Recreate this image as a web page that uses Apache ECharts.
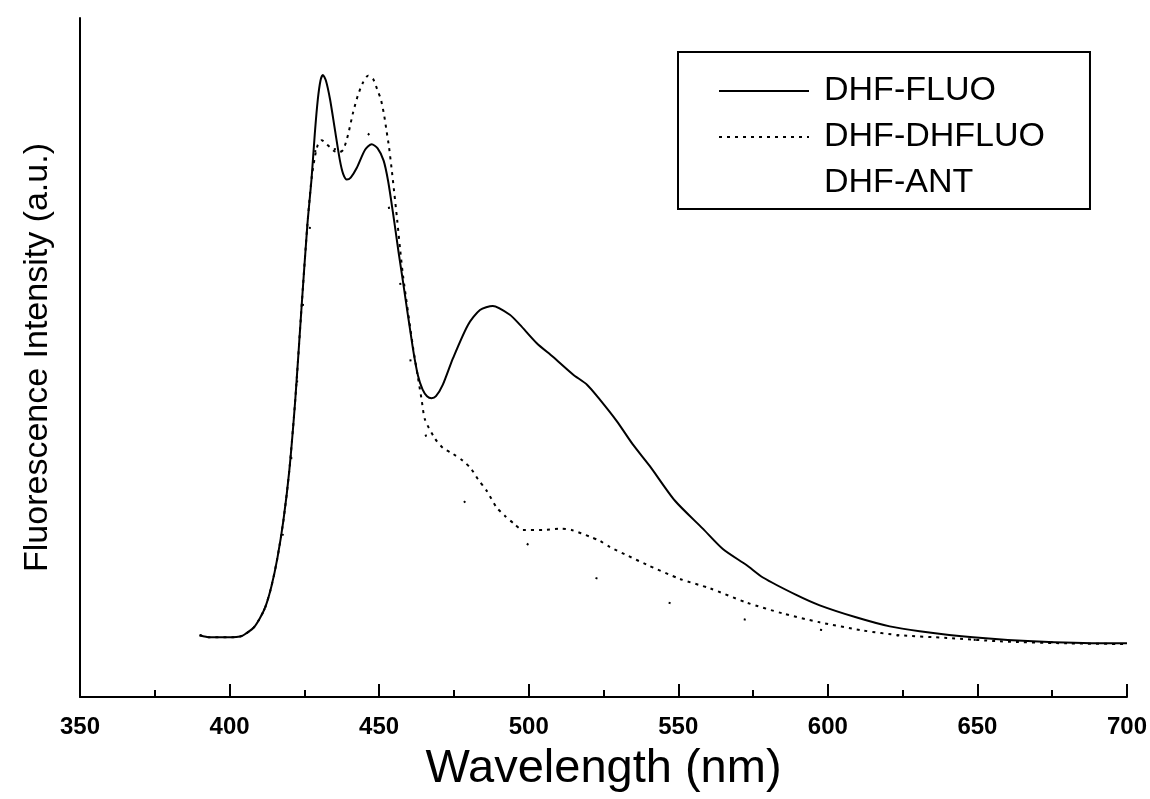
<!DOCTYPE html>
<html>
<head>
<meta charset="utf-8">
<script src="https://cdn.jsdelivr.net/npm/echarts@6/dist/echarts.min.js"></script>
<style>
  html, body { margin: 0; padding: 0; background: #fff; }
  #chart { width: 1150px; height: 799px; }
</style>
</head>
<body>
<div id="chart"></div>
<script>
// DHF-FLUO (solid)
var fluoNm = [390, 393.4, 400.7, 403.5, 405, 408, 410, 412, 414, 416, 418, 420, 422, 424, 426, 427.4, 428.5, 429.5,
  430.4, 431.2, 432.2, 433.6, 435.2, 436.9, 438, 439.2, 440.5, 442.5, 445.3, 447.5, 449.5, 451.5, 453, 454.6,
  456.5, 458, 461.3, 463, 464.5, 466, 467.5, 469, 471.3, 474.7, 479.7, 483.7, 488, 493.7, 497.1, 502.7, 508.1,
  514.8, 519.5, 523.8, 529.5, 534.8, 540.5, 548.9, 558.2, 564.9, 572.9, 578.3, 589.6, 597.3, 609.7, 620.7,
  630.7, 648.5, 668.5, 693.6, 700];
var fluoI = [9.1, 8.8, 8.8, 8.9, 9.2, 10.2, 11.5, 13.3, 16.3, 20.5, 26, 33.5, 44, 57, 69.5, 76.3, 83, 88,
  90.8, 91.6, 90.8, 88, 83.6, 79, 77, 76.2, 76.5, 77.9, 80.6, 81.4, 80.8, 79, 76, 71.4,
  65.5, 61.1, 51.3, 47.3, 45.3, 44.3, 44.0, 44.3, 46.0, 49.9, 54.8, 57.0, 57.6, 56.3, 54.8, 52.1, 50.1,
  47.5, 46.0, 43.8, 40.6, 37.2, 34.0, 28.9, 24.8, 21.8, 19.4, 17.6, 15.0, 13.5, 11.7, 10.4,
  9.7, 8.8, 8.2, 7.9, 7.9];

// DHF-DHFLUO (dotted)
var dhfluoNm = [390, 393.4, 400.7, 403.5, 405, 408, 410, 412, 414, 416, 418, 420, 422, 424, 426, 427.4, 428.5, 429.5,
  430.8, 432, 433.5, 435, 436.5, 438, 439.6, 441.3, 442.9, 444.6, 446.3, 448, 449.5, 450.6, 451.7, 452.5, 453.3,
  454.3, 455, 456, 457, 458, 461.3, 463, 464.2, 465.3, 468.6, 471.3, 474.7, 478, 480.6, 483, 485.9, 489.3, 492,
  495.4, 498, 504.7, 511, 514.3, 520.5, 523.8, 527.1, 533.2, 539.4, 550.5, 560.6, 572.9, 585, 597.3, 611.7,
  624, 639.8, 657.5, 679.9, 700];
var dhfluoI = [9.1, 8.8, 8.8, 8.9, 9.2, 10.2, 11.5, 13.3, 16.3, 20.5, 26, 33.5, 44, 57, 69.5, 76.3, 79.5, 81.3,
  82.0, 81.6, 81.0, 80.4, 80.2, 80.6, 82.8, 86.1, 88.6, 90.5, 91.5, 91.0, 89.3, 88.0, 85.6, 83.3, 81.0,
  77.3, 74.5, 70.4, 66, 62, 51.6, 47, 43.8, 40.9, 38.1, 36.7, 35.8, 34.8, 33.7, 32.1, 30.4, 27.9, 26.7,
  25.4, 24.6, 24.6, 24.8, 24.6, 23.6, 23.0, 22.1, 20.8, 19.5, 17.4, 16.0, 13.9, 12.3, 11.0, 9.8,
  9.1, 8.7, 8.2, 7.9, 7.8];

// DHF-ANT (faint, only a few dots survive)
var antNm = [390, 400, 405, 410, 415, 418.5, 421, 424, 427, 429.5, 431, 433.6, 435.5, 438, 442, 446, 450, 454, 458, 462,
  466, 472, 480, 490, 497, 505, 515, 532, 550, 575, 600, 650, 700];
var antI = [9.1, 8.8, 9.2, 11.3, 17.5, 26, 37, 55, 70, 84.6, 85.6, 85.3, 80, 77, 79, 83, 80, 70, 58, 45,
  38, 33, 28, 24.5, 23.2, 21.0, 18.8, 16.0, 13.5, 11.2, 9.8, 8.4, 7.8];

var seriesNames = ['DHF-FLUO', 'DHF-DHFLUO', 'DHF-ANT'];
var xTicks = { min: 350, max: 700, step: 50 };

function pairs(xs, ys) {
  return xs.map(function (x, i) { return [x, ys[i]]; });
}

var font = 'Arial, "Liberation Sans", Helvetica, sans-serif';
var chart = echarts.init(document.getElementById('chart'));

chart.setOption({
  backgroundColor: '#fff',
  animation: false,
  grid: { left: 80, right: 23, top: 18, bottom: 102 },
  legend: {
    orient: 'vertical',
    left: 678,
    top: 52,
    padding: [21, 45, 8, 40],
    itemGap: 10,
    itemWidth: 90,
    itemHeight: 14,
    borderColor: '#000',
    borderWidth: 2,
    borderRadius: 0,
    itemStyle: { opacity: 0 },
    textStyle: { fontSize: 34, color: '#000', fontFamily: font, lineHeight: 36, padding: [0, 0, 0, 10] },
    data: [
      { name: seriesNames[0] },
      { name: seriesNames[1] },
      { name: seriesNames[2], lineStyle: { opacity: 0 } }
    ]
  },
  xAxis: {
    type: 'value',
    min: xTicks.min,
    max: xTicks.max,
    interval: xTicks.step,
    name: 'Wavelength (nm)',
    nameLocation: 'middle',
    nameGap: 49,
    nameTextStyle: { fontSize: 47, color: '#000', fontFamily: font },
    axisLine: { show: true, lineStyle: { color: '#000', width: 2 } },
    axisTick: { show: true, inside: true, length: 13, lineStyle: { color: '#000', width: 2 } },
    minorTick: { show: true, splitNumber: 2, length: 7, lineStyle: { color: '#000', width: 2 } },
    splitLine: { show: false },
    axisLabel: { fontSize: 24, fontWeight: 'bold', color: '#000', fontFamily: font, margin: 18 }
  },
  yAxis: {
    type: 'value',
    min: 0,
    max: 100,
    name: 'Fluorescence Intensity (a.u.)',
    nameLocation: 'middle',
    nameGap: 25,
    nameTextStyle: { fontSize: 34, color: '#000', fontFamily: font },
    axisLine: { show: true, lineStyle: { color: '#000', width: 2 } },
    axisTick: { show: false },
    axisLabel: { show: false },
    splitLine: { show: false }
  },
  series: [
    {
      name: seriesNames[0],
      type: 'line',
      data: pairs(fluoNm, fluoI),
      symbol: 'none',
      smooth: 0.25,
      z: 3,
      itemStyle: { color: '#000' },
      lineStyle: { color: '#000', width: 2 }
    },
    {
      name: seriesNames[1],
      type: 'line',
      data: pairs(dhfluoNm, dhfluoI),
      symbol: 'none',
      smooth: 0.25,
      z: 2,
      itemStyle: { color: '#000' },
      lineStyle: { color: '#000', width: 2, type: [3, 5] }
    },
    {
      name: seriesNames[2],
      type: 'line',
      data: pairs(antNm, antI),
      symbol: 'none',
      smooth: 0.25,
      z: 1,
      itemStyle: { color: '#000' },
      lineStyle: { color: '#000', width: 2, type: [2, 75] }
    }
  ]
});
</script>
</body>
</html>
